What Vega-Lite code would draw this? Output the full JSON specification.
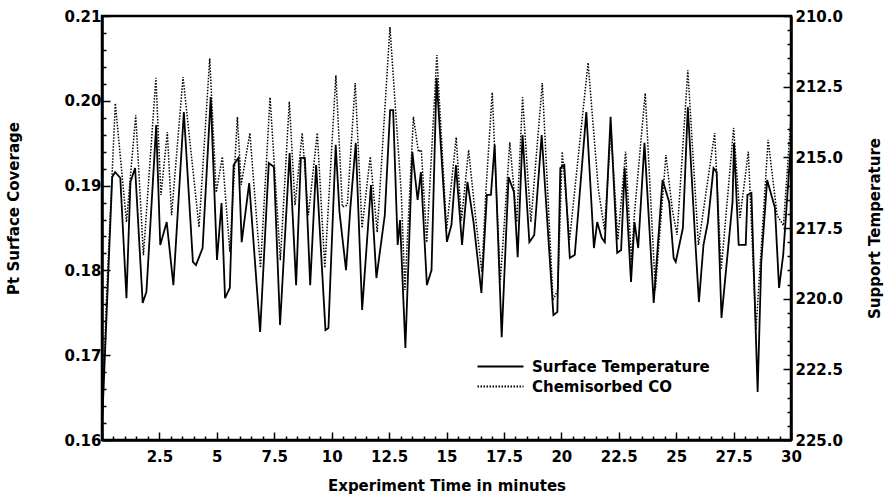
{
  "$schema": "https://vega.github.io/schema/vega-lite/v6.json",
  "width": 689,
  "height": 424,
  "autosize": "none",
  "padding": {"left": 102, "top": 16, "right": 95, "bottom": 57},
  "background": "white",
  "config": {
    "font": "DejaVu Sans",
    "view": {"stroke": "black", "strokeWidth": 2.5},
    "axis": {
      "grid": false,
      "labelFont": "DejaVu Sans",
      "labelFontSize": 15,
      "labelFontWeight": "bold",
      "labelColor": "black",
      "titleFont": "DejaVu Sans",
      "titleFontSize": 15,
      "titleFontWeight": "bold",
      "titleColor": "black",
      "domainColor": "black",
      "domainWidth": 2.5,
      "tickColor": "black",
      "tickWidth": 1.5,
      "labelFlush": false,
      "labelOverlap": false
    }
  },
  "datasets": {
    "co": [
      {"t": 0.02, "coverage": 0.1630, "series": "Chemisorbed CO"},
      {"t": 0.191, "coverage": 0.1765, "series": "Chemisorbed CO"},
      {"t": 0.580, "coverage": 0.1997, "series": "Chemisorbed CO"},
      {"t": 1.066, "coverage": 0.1857, "series": "Chemisorbed CO"},
      {"t": 1.469, "coverage": 0.1983, "series": "Chemisorbed CO"},
      {"t": 1.804, "coverage": 0.1818, "series": "Chemisorbed CO"},
      {"t": 2.347, "coverage": 0.2027, "series": "Chemisorbed CO"},
      {"t": 2.568, "coverage": 0.1889, "series": "Chemisorbed CO"},
      {"t": 2.846, "coverage": 0.1963, "series": "Chemisorbed CO"},
      {"t": 3.029, "coverage": 0.1865, "series": "Chemisorbed CO"},
      {"t": 3.528, "coverage": 0.2028, "series": "Chemisorbed CO"},
      {"t": 4.225, "coverage": 0.1851, "series": "Chemisorbed CO"},
      {"t": 4.690, "coverage": 0.2050, "series": "Chemisorbed CO"},
      {"t": 4.973, "coverage": 0.1892, "series": "Chemisorbed CO"},
      {"t": 5.240, "coverage": 0.1934, "series": "Chemisorbed CO"},
      {"t": 5.567, "coverage": 0.1822, "series": "Chemisorbed CO"},
      {"t": 5.895, "coverage": 0.1981, "series": "Chemisorbed CO"},
      {"t": 6.060, "coverage": 0.1901, "series": "Chemisorbed CO"},
      {"t": 6.439, "coverage": 0.1962, "series": "Chemisorbed CO"},
      {"t": 6.900, "coverage": 0.1803, "series": "Chemisorbed CO"},
      {"t": 7.318, "coverage": 0.2004, "series": "Chemisorbed CO"},
      {"t": 7.766, "coverage": 0.1812, "series": "Chemisorbed CO"},
      {"t": 8.156, "coverage": 0.1999, "series": "Chemisorbed CO"},
      {"t": 8.405, "coverage": 0.1877, "series": "Chemisorbed CO"},
      {"t": 8.717, "coverage": 0.1962, "series": "Chemisorbed CO"},
      {"t": 8.985, "coverage": 0.1865, "series": "Chemisorbed CO"},
      {"t": 9.374, "coverage": 0.1962, "series": "Chemisorbed CO"},
      {"t": 9.703, "coverage": 0.1803, "series": "Chemisorbed CO"},
      {"t": 10.184, "coverage": 0.2030, "series": "Chemisorbed CO"},
      {"t": 10.466, "coverage": 0.1875, "series": "Chemisorbed CO"},
      {"t": 10.682, "coverage": 0.1877, "series": "Chemisorbed CO"},
      {"t": 11.025, "coverage": 0.2021, "series": "Chemisorbed CO"},
      {"t": 11.322, "coverage": 0.1850, "series": "Chemisorbed CO"},
      {"t": 11.679, "coverage": 0.1934, "series": "Chemisorbed CO"},
      {"t": 11.983, "coverage": 0.1845, "series": "Chemisorbed CO"},
      {"t": 12.538, "coverage": 0.2087, "series": "Chemisorbed CO"},
      {"t": 12.753, "coverage": 0.2001, "series": "Chemisorbed CO"},
      {"t": 13.036, "coverage": 0.1889, "series": "Chemisorbed CO"},
      {"t": 13.188, "coverage": 0.1777, "series": "Chemisorbed CO"},
      {"t": 13.560, "coverage": 0.1981, "series": "Chemisorbed CO"},
      {"t": 13.775, "coverage": 0.1940, "series": "Chemisorbed CO"},
      {"t": 13.905, "coverage": 0.1942, "series": "Chemisorbed CO"},
      {"t": 14.140, "coverage": 0.1833, "series": "Chemisorbed CO"},
      {"t": 14.579, "coverage": 0.2054, "series": "Chemisorbed CO"},
      {"t": 15.003, "coverage": 0.1848, "series": "Chemisorbed CO"},
      {"t": 15.423, "coverage": 0.1957, "series": "Chemisorbed CO"},
      {"t": 15.649, "coverage": 0.1859, "series": "Chemisorbed CO"},
      {"t": 15.963, "coverage": 0.1942, "series": "Chemisorbed CO"},
      {"t": 16.256, "coverage": 0.1865, "series": "Chemisorbed CO"},
      {"t": 16.540, "coverage": 0.1798, "series": "Chemisorbed CO"},
      {"t": 16.712, "coverage": 0.1892, "series": "Chemisorbed CO"},
      {"t": 16.992, "coverage": 0.2010, "series": "Chemisorbed CO"},
      {"t": 17.340, "coverage": 0.1786, "series": "Chemisorbed CO"},
      {"t": 17.757, "coverage": 0.1951, "series": "Chemisorbed CO"},
      {"t": 18.060, "coverage": 0.1857, "series": "Chemisorbed CO"},
      {"t": 18.312, "coverage": 0.2004, "series": "Chemisorbed CO"},
      {"t": 18.673, "coverage": 0.1857, "series": "Chemisorbed CO"},
      {"t": 19.172, "coverage": 0.2021, "series": "Chemisorbed CO"},
      {"t": 19.638, "coverage": 0.1765, "series": "Chemisorbed CO"},
      {"t": 19.846, "coverage": 0.1777, "series": "Chemisorbed CO"},
      {"t": 20.039, "coverage": 0.1940, "series": "Chemisorbed CO"},
      {"t": 20.358, "coverage": 0.1836, "series": "Chemisorbed CO"},
      {"t": 21.164, "coverage": 0.2045, "series": "Chemisorbed CO"},
      {"t": 21.615, "coverage": 0.1895, "series": "Chemisorbed CO"},
      {"t": 21.880, "coverage": 0.1848, "series": "Chemisorbed CO"},
      {"t": 22.160, "coverage": 0.1966, "series": "Chemisorbed CO"},
      {"t": 22.461, "coverage": 0.1836, "series": "Chemisorbed CO"},
      {"t": 22.798, "coverage": 0.1940, "series": "Chemisorbed CO"},
      {"t": 23.055, "coverage": 0.1810, "series": "Chemisorbed CO"},
      {"t": 23.177, "coverage": 0.1865, "series": "Chemisorbed CO"},
      {"t": 23.652, "coverage": 0.2009, "series": "Chemisorbed CO"},
      {"t": 24.094, "coverage": 0.1777, "series": "Chemisorbed CO"},
      {"t": 24.554, "coverage": 0.1936, "series": "Chemisorbed CO"},
      {"t": 24.835, "coverage": 0.1871, "series": "Chemisorbed CO"},
      {"t": 25.039, "coverage": 0.1842, "series": "Chemisorbed CO"},
      {"t": 25.508, "coverage": 0.2036, "series": "Chemisorbed CO"},
      {"t": 25.970, "coverage": 0.1830, "series": "Chemisorbed CO"},
      {"t": 26.675, "coverage": 0.1962, "series": "Chemisorbed CO"},
      {"t": 26.962, "coverage": 0.1801, "series": "Chemisorbed CO"},
      {"t": 27.502, "coverage": 0.1968, "series": "Chemisorbed CO"},
      {"t": 27.779, "coverage": 0.1862, "series": "Chemisorbed CO"},
      {"t": 28.142, "coverage": 0.1940, "series": "Chemisorbed CO"},
      {"t": 28.476, "coverage": 0.1730, "series": "Chemisorbed CO"},
      {"t": 29.004, "coverage": 0.1954, "series": "Chemisorbed CO"},
      {"t": 29.396, "coverage": 0.1865, "series": "Chemisorbed CO"},
      {"t": 29.671, "coverage": 0.1853, "series": "Chemisorbed CO"},
      {"t": 29.990, "coverage": 0.1977, "series": "Chemisorbed CO"}
    ],
    "temp": [
      {"t": 0.02, "temperature": 224.12, "series": "Surface Temperature"},
      {"t": 0.445, "temperature": 215.70, "series": "Surface Temperature"},
      {"t": 0.571, "temperature": 215.52, "series": "Surface Temperature"},
      {"t": 0.797, "temperature": 215.73, "series": "Surface Temperature"},
      {"t": 1.065, "temperature": 219.98, "series": "Surface Temperature"},
      {"t": 1.239, "temperature": 215.87, "series": "Surface Temperature"},
      {"t": 1.442, "temperature": 215.38, "series": "Surface Temperature"},
      {"t": 1.771, "temperature": 220.15, "series": "Surface Temperature"},
      {"t": 1.934, "temperature": 219.76, "series": "Surface Temperature"},
      {"t": 2.360, "temperature": 213.86, "series": "Surface Temperature"},
      {"t": 2.537, "temperature": 218.10, "series": "Surface Temperature"},
      {"t": 2.818, "temperature": 217.29, "series": "Surface Temperature"},
      {"t": 3.108, "temperature": 219.52, "series": "Surface Temperature"},
      {"t": 3.564, "temperature": 213.40, "series": "Surface Temperature"},
      {"t": 3.958, "temperature": 218.70, "series": "Surface Temperature"},
      {"t": 4.093, "temperature": 218.81, "series": "Surface Temperature"},
      {"t": 4.380, "temperature": 218.21, "series": "Surface Temperature"},
      {"t": 4.734, "temperature": 212.87, "series": "Surface Temperature"},
      {"t": 5.007, "temperature": 218.63, "series": "Surface Temperature"},
      {"t": 5.205, "temperature": 216.62, "series": "Surface Temperature"},
      {"t": 5.357, "temperature": 219.98, "series": "Surface Temperature"},
      {"t": 5.565, "temperature": 219.62, "series": "Surface Temperature"},
      {"t": 5.731, "temperature": 215.27, "series": "Surface Temperature"},
      {"t": 5.942, "temperature": 215.02, "series": "Surface Temperature"},
      {"t": 6.082, "temperature": 218.00, "series": "Surface Temperature"},
      {"t": 6.409, "temperature": 215.91, "series": "Surface Temperature"},
      {"t": 6.885, "temperature": 221.18, "series": "Surface Temperature"},
      {"t": 7.262, "temperature": 215.20, "series": "Surface Temperature"},
      {"t": 7.485, "temperature": 215.34, "series": "Surface Temperature"},
      {"t": 7.753, "temperature": 220.93, "series": "Surface Temperature"},
      {"t": 8.169, "temperature": 214.85, "series": "Surface Temperature"},
      {"t": 8.452, "temperature": 219.52, "series": "Surface Temperature"},
      {"t": 8.658, "temperature": 215.02, "series": "Surface Temperature"},
      {"t": 8.833, "temperature": 215.02, "series": "Surface Temperature"},
      {"t": 9.065, "temperature": 219.52, "series": "Surface Temperature"},
      {"t": 9.323, "temperature": 215.27, "series": "Surface Temperature"},
      {"t": 9.730, "temperature": 221.11, "series": "Surface Temperature"},
      {"t": 9.859, "temperature": 221.04, "series": "Surface Temperature"},
      {"t": 10.176, "temperature": 214.56, "series": "Surface Temperature"},
      {"t": 10.340, "temperature": 216.93, "series": "Surface Temperature"},
      {"t": 10.625, "temperature": 218.99, "series": "Surface Temperature"},
      {"t": 10.816, "temperature": 216.76, "series": "Surface Temperature"},
      {"t": 11.050, "temperature": 214.49, "series": "Surface Temperature"},
      {"t": 11.327, "temperature": 220.40, "series": "Surface Temperature"},
      {"t": 11.711, "temperature": 215.98, "series": "Surface Temperature"},
      {"t": 11.948, "temperature": 219.27, "series": "Surface Temperature"},
      {"t": 12.314, "temperature": 217.04, "series": "Surface Temperature"},
      {"t": 12.545, "temperature": 213.33, "series": "Surface Temperature"},
      {"t": 12.677, "temperature": 213.33, "series": "Surface Temperature"},
      {"t": 12.874, "temperature": 218.10, "series": "Surface Temperature"},
      {"t": 12.977, "temperature": 217.22, "series": "Surface Temperature"},
      {"t": 13.210, "temperature": 221.74, "series": "Surface Temperature"},
      {"t": 13.513, "temperature": 214.81, "series": "Surface Temperature"},
      {"t": 13.743, "temperature": 216.51, "series": "Surface Temperature"},
      {"t": 13.886, "temperature": 215.52, "series": "Surface Temperature"},
      {"t": 14.146, "temperature": 219.52, "series": "Surface Temperature"},
      {"t": 14.348, "temperature": 218.99, "series": "Surface Temperature"},
      {"t": 14.567, "temperature": 212.19, "series": "Surface Temperature"},
      {"t": 15.017, "temperature": 217.99, "series": "Surface Temperature"},
      {"t": 15.216, "temperature": 217.39, "series": "Surface Temperature"},
      {"t": 15.411, "temperature": 215.27, "series": "Surface Temperature"},
      {"t": 15.677, "temperature": 218.10, "series": "Surface Temperature"},
      {"t": 15.912, "temperature": 215.87, "series": "Surface Temperature"},
      {"t": 16.177, "temperature": 217.29, "series": "Surface Temperature"},
      {"t": 16.520, "temperature": 219.80, "series": "Surface Temperature"},
      {"t": 16.759, "temperature": 216.33, "series": "Surface Temperature"},
      {"t": 16.934, "temperature": 216.33, "series": "Surface Temperature"},
      {"t": 17.097, "temperature": 214.56, "series": "Surface Temperature"},
      {"t": 17.403, "temperature": 221.36, "series": "Surface Temperature"},
      {"t": 17.702, "temperature": 215.70, "series": "Surface Temperature"},
      {"t": 17.938, "temperature": 216.23, "series": "Surface Temperature"},
      {"t": 18.100, "temperature": 218.53, "series": "Surface Temperature"},
      {"t": 18.311, "temperature": 214.21, "series": "Surface Temperature"},
      {"t": 18.608, "temperature": 218.00, "series": "Surface Temperature"},
      {"t": 18.820, "temperature": 217.75, "series": "Surface Temperature"},
      {"t": 19.144, "temperature": 214.21, "series": "Surface Temperature"},
      {"t": 19.655, "temperature": 220.58, "series": "Surface Temperature"},
      {"t": 19.827, "temperature": 220.47, "series": "Surface Temperature"},
      {"t": 19.956, "temperature": 215.38, "series": "Surface Temperature"},
      {"t": 20.128, "temperature": 215.27, "series": "Surface Temperature"},
      {"t": 20.370, "temperature": 218.56, "series": "Surface Temperature"},
      {"t": 20.585, "temperature": 218.45, "series": "Surface Temperature"},
      {"t": 21.088, "temperature": 213.40, "series": "Surface Temperature"},
      {"t": 21.419, "temperature": 218.21, "series": "Surface Temperature"},
      {"t": 21.564, "temperature": 217.29, "series": "Surface Temperature"},
      {"t": 21.758, "temperature": 217.85, "series": "Surface Temperature"},
      {"t": 21.893, "temperature": 218.00, "series": "Surface Temperature"},
      {"t": 22.145, "temperature": 213.57, "series": "Surface Temperature"},
      {"t": 22.432, "temperature": 218.38, "series": "Surface Temperature"},
      {"t": 22.603, "temperature": 218.28, "series": "Surface Temperature"},
      {"t": 22.759, "temperature": 215.38, "series": "Surface Temperature"},
      {"t": 23.034, "temperature": 219.41, "series": "Surface Temperature"},
      {"t": 23.185, "temperature": 217.29, "series": "Surface Temperature"},
      {"t": 23.346, "temperature": 218.21, "series": "Surface Temperature"},
      {"t": 23.620, "temperature": 214.49, "series": "Surface Temperature"},
      {"t": 24.022, "temperature": 220.15, "series": "Surface Temperature"},
      {"t": 24.407, "temperature": 215.80, "series": "Surface Temperature"},
      {"t": 24.695, "temperature": 216.58, "series": "Surface Temperature"},
      {"t": 24.890, "temperature": 218.56, "series": "Surface Temperature"},
      {"t": 24.982, "temperature": 218.70, "series": "Surface Temperature"},
      {"t": 25.294, "temperature": 217.50, "series": "Surface Temperature"},
      {"t": 25.507, "temperature": 213.22, "series": "Surface Temperature"},
      {"t": 25.835, "temperature": 218.00, "series": "Surface Temperature"},
      {"t": 25.991, "temperature": 220.12, "series": "Surface Temperature"},
      {"t": 26.189, "temperature": 218.10, "series": "Surface Temperature"},
      {"t": 26.382, "temperature": 217.29, "series": "Surface Temperature"},
      {"t": 26.627, "temperature": 215.38, "series": "Surface Temperature"},
      {"t": 26.763, "temperature": 215.52, "series": "Surface Temperature"},
      {"t": 26.973, "temperature": 220.68, "series": "Surface Temperature"},
      {"t": 27.454, "temperature": 216.58, "series": "Surface Temperature"},
      {"t": 27.519, "temperature": 214.49, "series": "Surface Temperature"},
      {"t": 27.722, "temperature": 218.10, "series": "Surface Temperature"},
      {"t": 28.029, "temperature": 218.10, "series": "Surface Temperature"},
      {"t": 28.103, "temperature": 216.33, "series": "Surface Temperature"},
      {"t": 28.276, "temperature": 216.26, "series": "Surface Temperature"},
      {"t": 28.547, "temperature": 223.30, "series": "Surface Temperature"},
      {"t": 28.705, "temperature": 218.70, "series": "Surface Temperature"},
      {"t": 28.962, "temperature": 215.80, "series": "Surface Temperature"},
      {"t": 29.301, "temperature": 216.79, "series": "Surface Temperature"},
      {"t": 29.480, "temperature": 219.62, "series": "Surface Temperature"},
      {"t": 29.661, "temperature": 218.45, "series": "Surface Temperature"},
      {"t": 29.979, "temperature": 214.74, "series": "Surface Temperature"}
    ]
  },
  "encoding": {
    "x": {
      "field": "t", "type": "quantitative",
      "scale": {"domain": [0, 30], "nice": false, "zero": false},
      "axis": {
        "orient": "bottom",
        "title": "Experiment Time in minutes",
        "titlePadding": 10,
        "labelOverlap": false,
        "values": [0,0.5,1,1.5,2,2.5,3,3.5,4,4.5,5,5.5,6,6.5,7,7.5,8,8.5,9,9.5,10,10.5,11,11.5,12,12.5,13,13.5,14,14.5,15,15.5,16,16.5,17,17.5,18,18.5,19,19.5,20,20.5,21,21.5,22,22.5,23,23.5,24,24.5,25,25.5,26,26.5,27,27.5,28,28.5,29,29.5,30],
        "labelExpr": "(datum.value % 2.5 === 0 && datum.value > 0) ? format(datum.value, '~g') : ''",
        "tickSize": {"condition": {"test": "datum.value % 2.5 === 0", "value": -8}, "value": -4},
        "labelPadding": 17
      }
    }
  },
  "layer": [
    {
      "data": {"name": "co"},
      "mark": {"type": "line", "color": "black", "strokeWidth": 1.5},
      "encoding": {
        "y": {
          "field": "coverage", "type": "quantitative",
          "scale": {"domain": [0.16, 0.21], "nice": false, "zero": false},
          "axis": {
            "orient": "left",
            "title": "Pt Surface Coverage",
            "titlePadding": 42,
            "titleY": 192,
            "labelOverlap": false,
            "values": [0.16,0.162,0.164,0.166,0.168,0.17,0.172,0.174,0.176,0.178,0.18,0.182,0.184,0.186,0.188,0.19,0.192,0.194,0.196,0.198,0.2,0.202,0.204,0.206,0.208,0.21],
            "labelExpr": "abs(datum.value*100 - round(datum.value*100)) < 1e-6 ? format(datum.value, '.2f') : ''",
            "tickSize": {"condition": {"test": "abs(datum.value*100 - round(datum.value*100)) < 1e-6", "value": -8}, "value": -4},
            "labelPadding": 9
          }
        },
        "strokeDash": {
          "field": "series", "type": "nominal",
          "scale": {"domain": ["Surface Temperature", "Chemisorbed CO"], "range": [[1, 0], [1.5, 1.5]]},
          "legend": {
            "orient": "none",
            "legendX": 391,
            "legendY": 343,
            "title": null,
            "symbolType": "M-4.6,0H4.6",
            "symbolSize": 100,
            "symbolStrokeColor": "black",
            "symbolStrokeWidth": 1.8,
            "labelFont": "DejaVu Sans",
            "labelFontSize": 15,
            "labelFontWeight": "bold",
            "labelColor": "black",
            "labelLimit": 400,
            "labelOffset": 24,
            "rowPadding": 4
          }
        }
      }
    },
    {
      "data": {"name": "temp"},
      "mark": {"type": "line", "color": "black", "strokeWidth": 1.8},
      "encoding": {
        "y": {
          "field": "temperature", "type": "quantitative",
          "scale": {"domain": [210, 225], "reverse": true, "nice": false, "zero": false},
          "axis": {
            "orient": "right",
            "title": "Support Temperature",
            "titleAngle": 270,
            "titlePadding": 40,
            "labelOverlap": false,
            "values": [210,210.5,211,211.5,212,212.5,213,213.5,214,214.5,215,215.5,216,216.5,217,217.5,218,218.5,219,219.5,220,220.5,221,221.5,222,222.5,223,223.5,224,224.5,225],
            "labelExpr": "datum.value % 2.5 === 0 ? format(datum.value, '.1f') : ''",
            "tickSize": {"condition": {"test": "datum.value % 2.5 === 0", "value": -8}, "value": -4},
            "labelPadding": 12
          }
        },
        "strokeDash": {"field": "series", "type": "nominal"}
      }
    }
  ],
  "resolve": {"scale": {"y": "independent"}}
}
